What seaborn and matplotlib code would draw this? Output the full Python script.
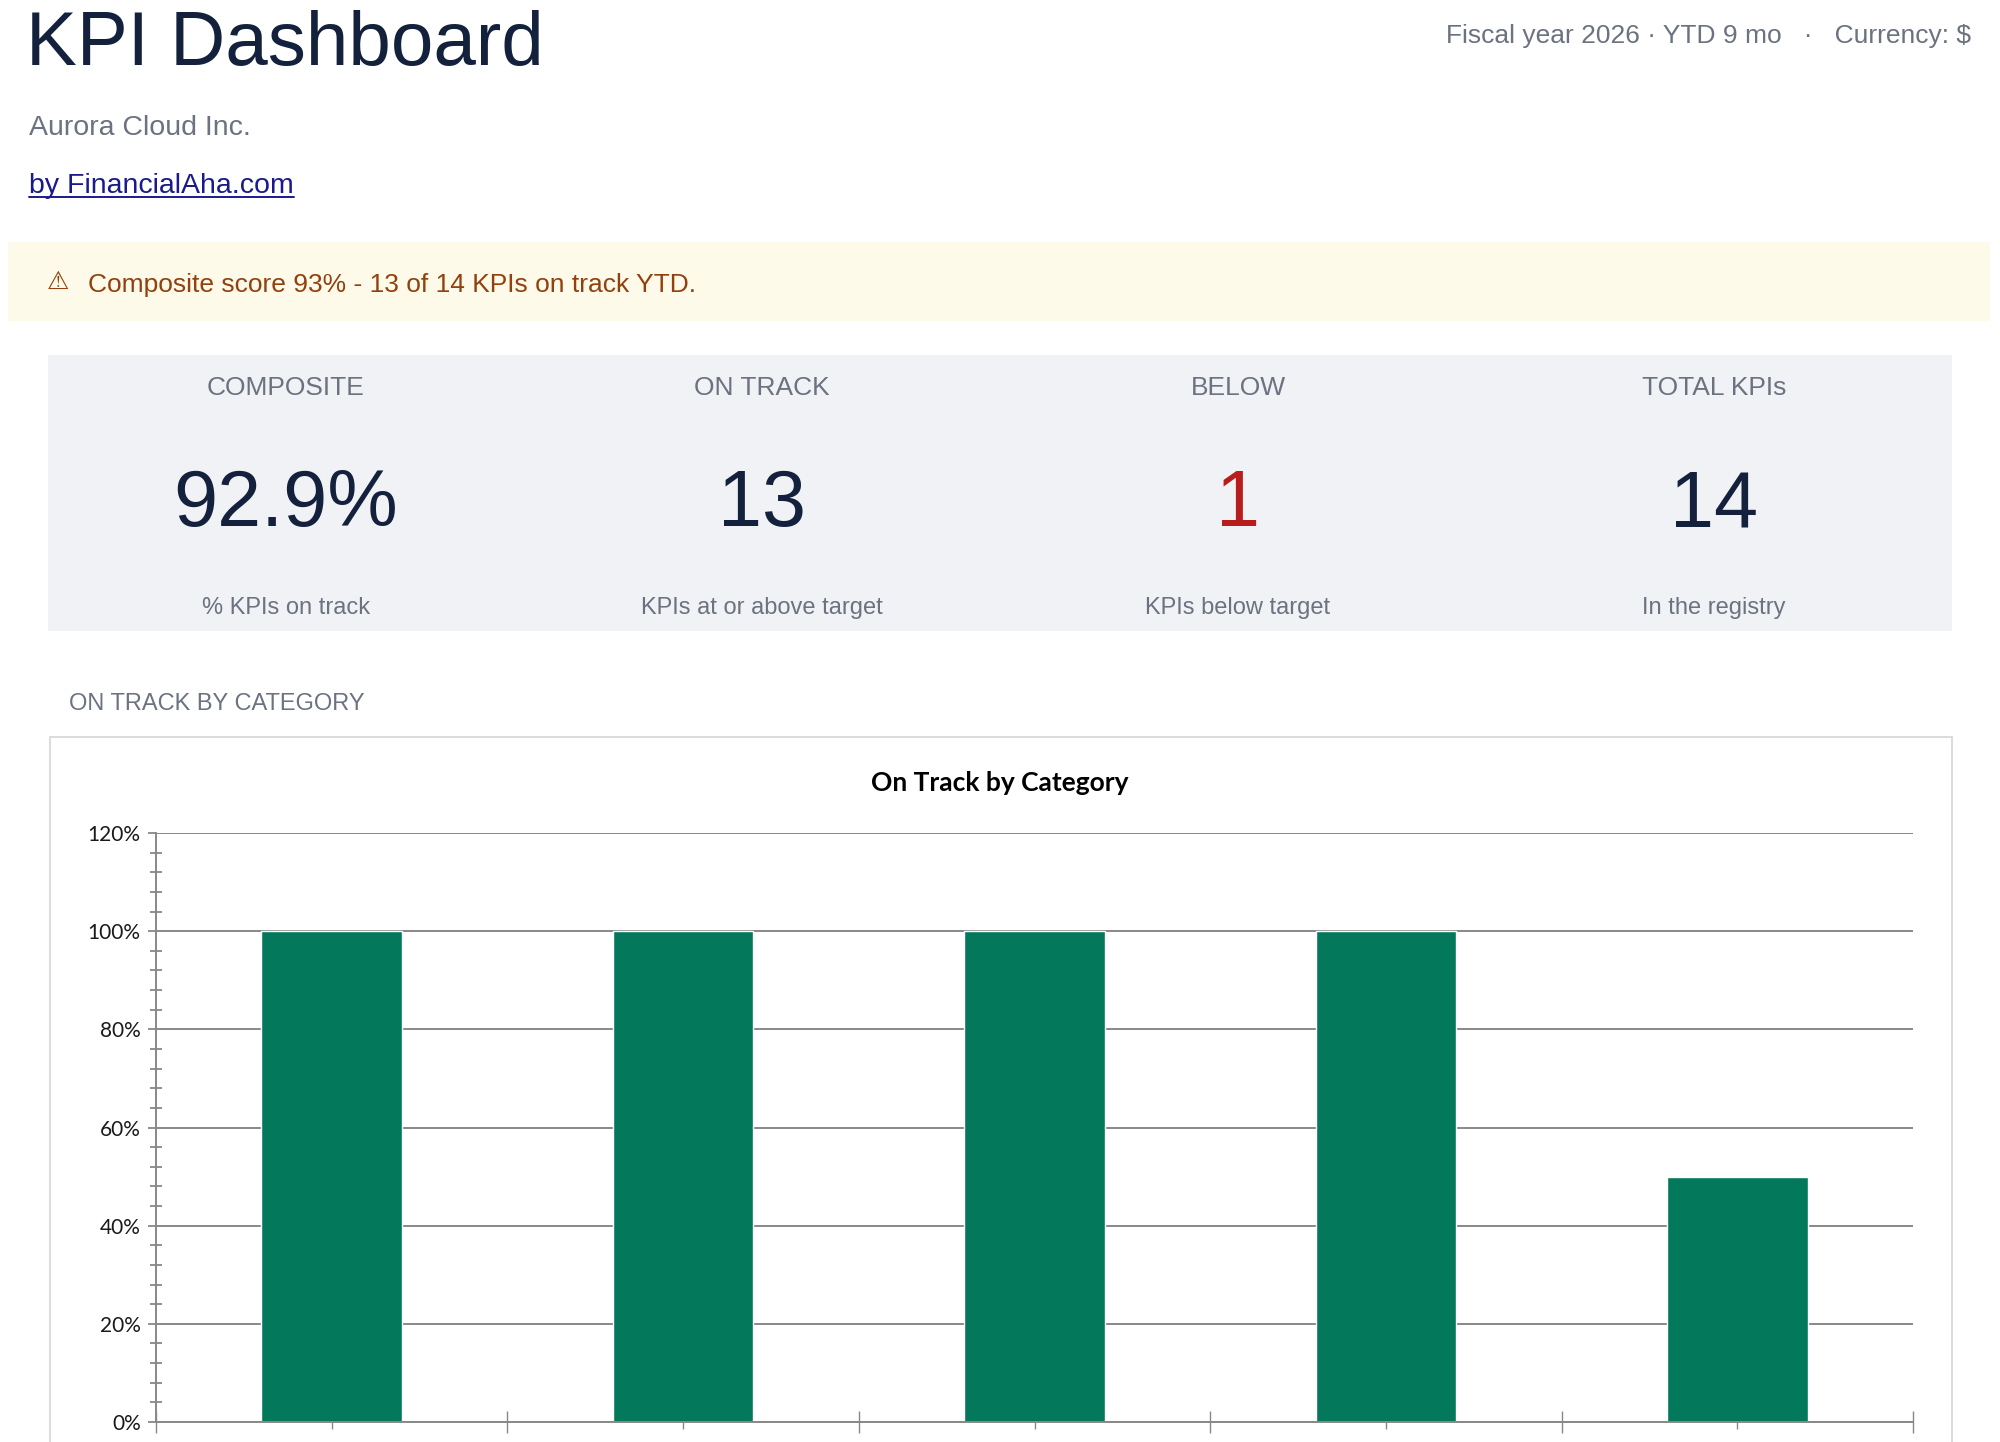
import numpy as np
import pandas as pd
import matplotlib
matplotlib.use("Agg")
import matplotlib.pyplot as plt
import seaborn as sns
from matplotlib.patches import Rectangle
from matplotlib.lines import Line2D
from matplotlib.ticker import FixedLocator, MultipleLocator

# Data
categories = ["Financial", "Customer", "Operations", "People", "Growth"]
on_track_pct = [100, 100, 100, 100, 50]

card_titles = ["COMPOSITE", "ON TRACK", "BELOW", "TOTAL KPIs"]
card_values = ["92.9%", "13", "1", "14"]
card_notes = ["% KPIs on track", "KPIs at or above target", "KPIs below target", "In the registry"]

y_ticks = [0, 20, 40, 60, 80, 100, 120]

# Style
sns.set_theme(style="white")
plt.rcParams["font.family"] = ["Liberation Sans", "DejaVu Sans"]

NAVY = "#14213d"
GRAY = "#6b7280"
W, H = 2000, 1442

fig = plt.figure(figsize=(20, 14.42), dpi=100)
fig.patch.set_facecolor("white")


def fx(x):
    return x / W


def fy(y):
    return 1 - y / H


def rect(x0, y0, x1, y1, **kw):
    r = Rectangle((fx(x0), fy(y1)), fx(x1) - fx(x0), fy(y0) - fy(y1),
                  transform=fig.transFigure, zorder=-5, **kw)
    fig.add_artist(r)


# Header
fig.text(fx(26), fy(65), "KPI Dashboard", fontsize=55, color=NAVY, va="baseline")
fig.text(fx(29), fy(135), "Aurora Cloud Inc.", fontsize=20.5, color=GRAY, va="baseline")
link = fig.text(fx(29), fy(193), "by FinancialAha.com", fontsize=20.5,
                color="#1a1a8c", va="baseline")
fig.text(fx(1971), fy(43), "Fiscal year 2026 \u00b7 YTD 9 mo   \u00b7   Currency: $",
         fontsize=19, color=GRAY, va="baseline", ha="right")

# Alert banner
rect(8, 242, 1990, 321, facecolor="#fefae9", edgecolor="none")
fig.text(fx(47), fy(282), "\u26a0", fontsize=18, color="#92400e", va="center",
         family=["DejaVu Sans"])
fig.text(fx(88), fy(292), "Composite score 93% - 13 of 14 KPIs on track YTD.",
         fontsize=19, color="#92400e", va="baseline")

# KPI cards
rect(48, 355, 1952, 631, facecolor="#f0f2f5", edgecolor="none")
col_w = (1952 - 48) / 4
for i in range(4):
    cx = 48 + col_w * (i + 0.5)
    fig.text(fx(cx), fy(395), card_titles[i], fontsize=19, color=GRAY,
             ha="center", va="baseline")
    fig.text(fx(cx), fy(526), card_values[i], fontsize=57,
             color="#b91c1c" if card_titles[i] == "BELOW" else NAVY,
             ha="center", va="baseline")
    fig.text(fx(cx), fy(614), card_notes[i], fontsize=17, color=GRAY,
             ha="center", va="baseline")

# Section label and chart container
fig.text(fx(69), fy(710), "ON TRACK BY CATEGORY", fontsize=17, color=GRAY, va="baseline")
rect(50, 737, 1952, 1500, facecolor="white", edgecolor="#d6d6d6", linewidth=1.2)
fig.text(fx(1000), fy(791), "On Track by Category", fontsize=19, fontweight="bold",
         family=["Lato", "DejaVu Sans"], color="black", ha="center", va="baseline")

# Bar chart
ax = fig.add_axes([fx(156), 20 / H, fx(1913) - fx(156), (1422 - 833) / H])
ax.set_zorder(5)
df = pd.DataFrame({"category": categories, "pct": on_track_pct})
sns.barplot(data=df, x="category", y="pct", color="#04785a", saturation=1,
            width=0.4, ax=ax)
ax.set_xlim(-0.5, len(categories) - 0.5)
ax.set_ylim(0, 120)
ax.set_xlabel("")
ax.set_ylabel("")
ax.patch.set_alpha(0)

ax.set_yticks(y_ticks)
ax.set_yticklabels([f"{v}%" for v in y_ticks], fontsize=15, color="#1a1a1a",
                   family=["Lato", "DejaVu Sans"])
ax.yaxis.set_minor_locator(MultipleLocator(4))
ax.set_xticks(range(len(categories)))
ax.set_xticklabels([""] * len(categories))
ax.xaxis.set_minor_locator(FixedLocator(np.arange(-0.5, len(categories), 1.0)))

ax.yaxis.grid(True, color="#888888", linewidth=1.4)
ax.set_axisbelow(True)
for side in ["top", "right"]:
    ax.spines[side].set_visible(False)
for side in ["left", "bottom"]:
    ax.spines[side].set_color("#888888")
    ax.spines[side].set_linewidth(1.4)

ax.tick_params(axis="y", which="major", direction="out", length=6, width=1.3,
               color="#888888", pad=5, left=True)
ax.tick_params(axis="y", which="minor", direction="inout", length=9, width=1.3,
               color="#888888", left=True)
ax.tick_params(axis="x", which="major", direction="out", length=5, width=1.0,
               color="#888888", bottom=True)
ax.tick_params(axis="x", which="minor", direction="inout", length=16, width=1.0,
               color="#888888", bottom=True)

# Underline for the link
fig.canvas.draw()
bb = link.get_window_extent()
fig.add_artist(Line2D([bb.x0 / W, bb.x1 / W], [fy(197), fy(197)],
                      transform=fig.transFigure, color="#1a1a8c", linewidth=1.4))

fig.savefig("out.png", dpi=100, facecolor="white")
